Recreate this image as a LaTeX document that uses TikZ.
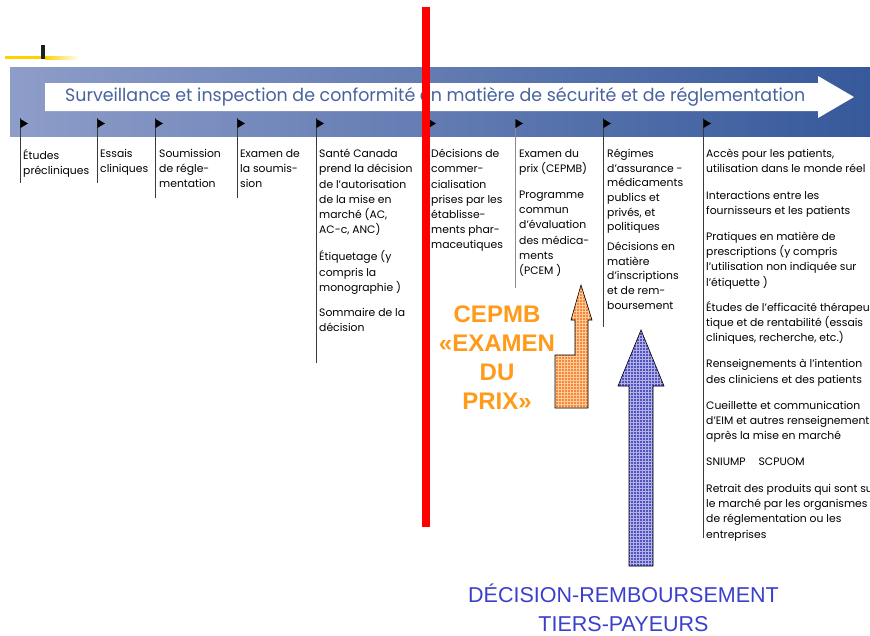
\documentclass[tikz,border=0pt]{standalone}
\usepackage{fontspec}
\setmainfont{Poppins}
\newfontfamily\arialf{Liberation Sans}
\usetikzlibrary{patterns}
\definecolor{bandL}{HTML}{8E9DC9}
\definecolor{bandR}{HTML}{36599B}
\definecolor{titleblue}{HTML}{4863A0}
\definecolor{orangeT}{HTML}{FF9A1A}
\definecolor{orangeA}{HTML}{F7873A}
\definecolor{blueA}{HTML}{5252C4}
\definecolor{blueT}{HTML}{3A3FCC}
\definecolor{ylw}{HTML}{FFD100}
\definecolor{poledark}{HTML}{3A3A3A}
\definecolor{polegray}{HTML}{8A8A8A}
\begin{document}
\begin{tikzpicture}[x=1pt,y=-1pt,
  col/.style={anchor=north west, inner sep=0pt, align=left, font=\fontsize{10.8}{15.2}\selectfont, text=black},
  colb/.style={col, font=\fontsize{10.8}{14.6}\selectfont},
  polestyle/.style={draw=poledark, line width=0.9pt},
  flagstyle/.style={fill=black},
  bigarrow/.style={draw=black, line width=0.6pt}]
\clip (0,0) rectangle (870,635);
\useasboundingbox (0,0) rectangle (870,635);
% top-left decoration
\fill[ylw] (5,56) rectangle (45,59);
\shade[left color=ylw, right color=white] (45,56) rectangle (80,59);
\fill[black!88] (41,45) rectangle (45,59);
% band
\shade[left color=bandL, right color=bandR] (10,67) rectangle (870,136);
\fill[white] (45,83) -- (818,83) -- (818,76) -- (854,97) -- (818,118) -- (818,111) -- (45,111) -- cycle;
\node[anchor=west, text=titleblue, font=\fontsize{19.5}{20}\selectfont, inner sep=0pt] (title) at (65,97.5)
  {\resizebox{740pt}{14pt}{\strut Surveillance et inspection de conformité en matière de sécurité et de réglementation}};
% flags and poles
\foreach \x/\y/\c in {20/183/poledark, 97/183/poledark, 155/198/poledark, 237/198/poledark, 316/363/poledark, 428/250/poledark, 515/288/polegray, 603/327/poledark, 703/538/poledark}{
  \coordinate (top\x) at (\x,118);
  \coordinate (bot\x) at (\x,\y);
  \draw[polestyle, draw=\c] (top\x) -- (bot\x);
  \fill[flagstyle] (\x+0.4,119) -- (\x+8,123.5) -- (\x+0.4,128) -- cycle;
}
% column texts
\node[col] (c1) at (23,149) {Études\\précliniques};
\node[col] (c2) at (100,149) {Essais\\cliniques};
\node[col] (c3) at (159,149) {Soumission\\de régle-\\mentation};
\node[col] (c4) at (240,149) {Examen de\\la soumis-\\sion};
\node[col] (c5) at (319,149) {Santé Canada\\prend la décision\\de l’autorisation\\de la mise en\\marché (AC,\\AC-c, ANC)\\[12pt]Étiquetage (y\\compris la\\monographie )\\[10pt]Sommaire de la\\décision};
\node[col] (c6) at (431,149) {Décisions de\\commer-\\cialisation\\prises par les\\établisse-\\ments phar-\\maceutiques};
\node[col] (c7) at (519,149) {Examen du\\prix (CEPMB)\\[11pt]Programme\\commun\\d’évaluation\\des médica-\\ments\\(PCEM )};
\node[colb] (c8) at (607,149) {Régimes\\d’assurance -\\médicaments\\publics et\\privés, et\\politiques\\[5.5pt]Décisions en\\matière\\d’inscriptions\\et de rem-\\boursement};
\node[col] (c9) at (706,149) {Accès pour les patients,\\utilisation dans le monde réel\\[11pt]Interactions entre les\\fournisseurs et les patients\\[11pt]Pratiques en matière de\\prescriptions (y compris\\l’utilisation non indiquée sur\\l’étiquette )\\[10pt]Études de l’efficacité thérapeu\\tique et de rentabilité (essais\\cliniques, recherche, etc.)\\[11pt]Renseignements à l’intention\\des cliniciens et des patients\\[11pt]Cueillette et communication\\d’EIM et autres renseignements\\après la mise en marché\\[11pt]SNIUMP\hspace{1.2em}SCPUOM\\[11.5pt]Retrait des produits qui sont sur\\le marché par les organismes\\de réglementation ou les\\entreprises};
% red line
\fill[red] (422,7) rectangle (430,527);
% orange arrow
\path[fill=orangeA] (555,408) -- (588,408) -- (588,320) -- (592,320) -- (581,285) -- (571,320) -- (575,320) -- (575,355) -- (555,355) -- cycle;
\path[pattern=grid, pattern color=orange!40] (555,408) -- (588,408) -- (588,320) -- (592,320) -- (581,285) -- (571,320) -- (575,320) -- (575,355) -- (555,355) -- cycle;
\draw[bigarrow] (555,408) -- (588,408) -- (588,320) -- (592,320) -- (581,285) -- (571,320) -- (575,320) -- (575,355) -- (555,355) -- cycle;
% blue arrow
\path[fill=blueA] (629,566) -- (653,566) -- (653,386) -- (664,386) -- (641,330) -- (618,386) -- (629,386) -- cycle;
\path[pattern=grid, pattern color=blueA!45] (629,566) -- (653,566) -- (653,386) -- (664,386) -- (641,330) -- (618,386) -- (629,386) -- cycle;
\draw[bigarrow] (629,566) -- (653,566) -- (653,386) -- (664,386) -- (641,330) -- (618,386) -- (629,386) -- cycle;
% labels
\node[font=\arialf\bfseries\fontsize{24}{29}\selectfont, text=orangeT, align=center, inner sep=0pt] (cepmb) at (497,358) {CEPMB\\«EXAMEN\\DU\\PRIX»};
\node[font=\arialf\fontsize{21.5}{29}\selectfont, text=blueT, align=center, inner sep=0pt] (tiers) at (623.5,608) {DÉCISION-REMBOURSEMENT\\TIERS-PAYEURS};
\end{tikzpicture}
\end{document}
